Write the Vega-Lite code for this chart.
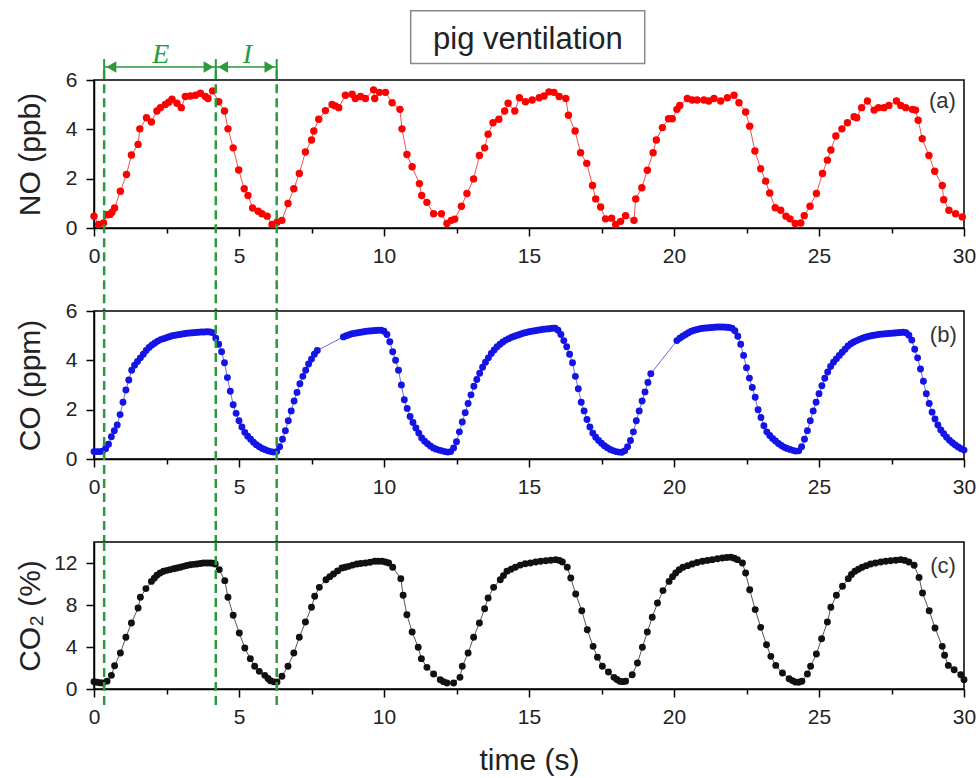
{
"$schema": "https://vega.github.io/schema/vega-lite/v6.json",
"background": "white",
"padding": {"left": 14, "top": 9, "right": 4, "bottom": 2},
"spacing": 83,
"bounds": "flush",
"config": {
 "font": "Liberation Sans",
 "view": {"stroke": "black", "strokeWidth": 1.5},
 "axis": {"grid": false, "domainColor": "black", "domainWidth": 1.5, "tickColor": "black", "tickWidth": 1.5, "labelFont": "Liberation Sans", "labelFontSize": 21, "labelColor": "#222", "labelPadding": 9, "labelFlush": false, "labelOverlap": false, "titleFont": "Liberation Sans", "titleFontSize": 30, "titleFontWeight": "normal", "titleColor": "#222"}
},
"datasets": {
 "vlines": [{"t": 0.35}, {"t": 4.2}, {"t": 6.3}],
 "no": [
{"t":0.0,"v":0.48},{"t":0.16,"v":0.14},{"t":0.33,"v":0.2},{"t":0.45,"v":0.54},{"t":0.55,"v":0.55},{"t":0.62,"v":0.64},{"t":0.71,"v":0.81},{"t":0.91,"v":1.49},{"t":1.12,"v":2.17},{"t":1.29,"v":2.96},{"t":1.52,"v":3.39},{"t":1.58,"v":4.02},{"t":1.81,"v":4.47},{"t":1.98,"v":4.3},{"t":2.17,"v":4.74},{"t":2.29,"v":4.88},{"t":2.46,"v":5.01},{"t":2.58,"v":5.1},{"t":2.69,"v":5.22},{"t":2.86,"v":5.06},{"t":3.01,"v":4.88},{"t":3.15,"v":5.33},{"t":3.32,"v":5.35},{"t":3.5,"v":5.38},{"t":3.67,"v":5.46},{"t":3.84,"v":5.33},{"t":3.93,"v":5.25},{"t":4.09,"v":5.56},{"t":4.3,"v":5.12},{"t":4.5,"v":4.74},{"t":4.62,"v":4.02},{"t":4.8,"v":3.25},{"t":4.99,"v":2.35},{"t":5.18,"v":1.59},{"t":5.31,"v":1.32},{"t":5.47,"v":0.81},{"t":5.66,"v":0.68},{"t":5.79,"v":0.58},{"t":5.97,"v":0.48},{"t":6.14,"v":0.14},{"t":6.31,"v":0.23},{"t":6.48,"v":0.31},{"t":6.69,"v":0.99},{"t":6.89,"v":1.59},{"t":7.08,"v":2.21},{"t":7.29,"v":3.08},{"t":7.5,"v":3.57},{"t":7.58,"v":3.93},{"t":7.75,"v":4.41},{"t":7.98,"v":4.76},{"t":8.21,"v":5.01},{"t":8.32,"v":4.95},{"t":8.44,"v":4.88},{"t":8.67,"v":5.38},{"t":8.9,"v":5.42},{"t":9.01,"v":5.25},{"t":9.19,"v":5.33},{"t":9.36,"v":5.25},{"t":9.64,"v":5.6},{"t":9.68,"v":5.25},{"t":9.84,"v":5.5},{"t":10.05,"v":5.5},{"t":10.28,"v":5.08},{"t":10.55,"v":4.81},{"t":10.62,"v":4.02},{"t":10.79,"v":2.98},{"t":10.97,"v":2.48},{"t":11.22,"v":1.8},{"t":11.3,"v":1.32},{"t":11.48,"v":1.04},{"t":11.71,"v":0.58},{"t":11.98,"v":0.58},{"t":12.17,"v":0.18},{"t":12.32,"v":0.31},{"t":12.44,"v":0.36},{"t":12.67,"v":0.88},{"t":12.86,"v":1.4},{"t":13.09,"v":1.99},{"t":13.29,"v":2.94},{"t":13.47,"v":3.25},{"t":13.59,"v":3.8},{"t":13.76,"v":4.27},{"t":13.96,"v":4.41},{"t":14.16,"v":4.74},{"t":14.28,"v":5.06},{"t":14.51,"v":4.74},{"t":14.67,"v":5.28},{"t":14.88,"v":5.12},{"t":15.11,"v":5.19},{"t":15.35,"v":5.28},{"t":15.52,"v":5.35},{"t":15.69,"v":5.52},{"t":15.86,"v":5.5},{"t":16.04,"v":5.33},{"t":16.27,"v":5.25},{"t":16.36,"v":4.57},{"t":16.59,"v":3.93},{"t":16.78,"v":3.05},{"t":16.99,"v":2.62},{"t":17.19,"v":1.72},{"t":17.3,"v":1.18},{"t":17.47,"v":0.85},{"t":17.64,"v":0.37},{"t":17.85,"v":0.4},{"t":17.99,"v":0.14},{"t":18.16,"v":0.27},{"t":18.33,"v":0.5},{"t":18.62,"v":0.31},{"t":18.68,"v":1.18},{"t":18.89,"v":1.63},{"t":19.08,"v":2.34},{"t":19.28,"v":3.05},{"t":19.39,"v":3.57},{"t":19.6,"v":4.07},{"t":19.81,"v":4.43},{"t":19.94,"v":4.43},{"t":20.1,"v":4.81},{"t":20.2,"v":4.97},{"t":20.46,"v":5.25},{"t":20.63,"v":5.19},{"t":20.8,"v":5.19},{"t":21.03,"v":5.19},{"t":21.2,"v":5.15},{"t":21.38,"v":5.25},{"t":21.61,"v":5.15},{"t":21.84,"v":5.28},{"t":22.07,"v":5.38},{"t":22.24,"v":5.08},{"t":22.47,"v":4.7},{"t":22.61,"v":4.13},{"t":22.79,"v":3.12},{"t":22.99,"v":2.4},{"t":23.16,"v":1.9},{"t":23.3,"v":1.42},{"t":23.49,"v":0.82},{"t":23.68,"v":0.72},{"t":23.86,"v":0.48},{"t":24.0,"v":0.37},{"t":24.18,"v":0.18},{"t":24.37,"v":0.2},{"t":24.49,"v":0.5},{"t":24.69,"v":0.88},{"t":24.91,"v":1.4},{"t":25.12,"v":2.21},{"t":25.29,"v":2.75},{"t":25.41,"v":3.16},{"t":25.58,"v":3.73},{"t":25.79,"v":4.02},{"t":25.98,"v":4.27},{"t":26.21,"v":4.51},{"t":26.3,"v":4.47},{"t":26.47,"v":4.88},{"t":26.67,"v":5.15},{"t":26.9,"v":4.78},{"t":27.05,"v":4.88},{"t":27.24,"v":4.88},{"t":27.41,"v":4.97},{"t":27.67,"v":5.15},{"t":27.82,"v":4.97},{"t":27.99,"v":4.88},{"t":28.22,"v":4.81},{"t":28.33,"v":4.78},{"t":28.42,"v":4.37},{"t":28.56,"v":3.62},{"t":28.79,"v":2.94},{"t":28.99,"v":2.3},{"t":29.25,"v":1.72},{"t":29.3,"v":1.15},{"t":29.48,"v":0.72},{"t":29.71,"v":0.58},{"t":29.94,"v":0.45}
 ],
 "co": [
{"t":0.0,"v":0.3},{"t":0.1,"v":0.3},{"t":0.2,"v":0.3},{"t":0.3,"v":0.32},{"t":0.4,"v":0.42},{"t":0.5,"v":0.6},{"t":0.6,"v":0.9},{"t":0.7,"v":1.15},{"t":0.8,"v":1.38},{"t":0.9,"v":1.8},{"t":1.0,"v":2.3},{"t":1.1,"v":2.8},{"t":1.2,"v":3.2},{"t":1.3,"v":3.6},{"t":1.4,"v":3.8},{"t":1.5,"v":3.95},{"t":1.6,"v":4.1},{"t":1.7,"v":4.25},{"t":1.8,"v":4.4},{"t":1.9,"v":4.52},{"t":2.0,"v":4.62},{"t":2.1,"v":4.7},{"t":2.2,"v":4.78},{"t":2.3,"v":4.84},{"t":2.4,"v":4.88},{"t":2.5,"v":4.92},{"t":2.6,"v":4.96},{"t":2.7,"v":5.0},{"t":2.8,"v":5.02},{"t":2.9,"v":5.04},{"t":3.0,"v":5.06},{"t":3.1,"v":5.08},{"t":3.2,"v":5.1},{"t":3.3,"v":5.11},{"t":3.4,"v":5.12},{"t":3.5,"v":5.13},{"t":3.6,"v":5.14},{"t":3.7,"v":5.15},{"t":3.8,"v":5.15},{"t":3.9,"v":5.16},{"t":4.0,"v":5.15},{"t":4.1,"v":5.12},{"t":4.2,"v":4.9},{"t":4.3,"v":4.65},{"t":4.4,"v":4.35},{"t":4.5,"v":3.9},{"t":4.6,"v":3.3},{"t":4.7,"v":2.75},{"t":4.8,"v":2.2},{"t":4.9,"v":1.85},{"t":5.0,"v":1.55},{"t":5.1,"v":1.3},{"t":5.2,"v":1.08},{"t":5.3,"v":0.92},{"t":5.4,"v":0.8},{"t":5.5,"v":0.68},{"t":5.6,"v":0.58},{"t":5.7,"v":0.5},{"t":5.8,"v":0.43},{"t":5.9,"v":0.38},{"t":6.0,"v":0.33},{"t":6.1,"v":0.3},{"t":6.2,"v":0.28},{"t":6.3,"v":0.3},{"t":6.4,"v":0.5},{"t":6.5,"v":0.8},{"t":6.6,"v":1.15},{"t":6.7,"v":1.55},{"t":6.8,"v":1.95},{"t":6.9,"v":2.35},{"t":7.0,"v":2.7},{"t":7.1,"v":3.05},{"t":7.2,"v":3.35},{"t":7.3,"v":3.6},{"t":7.4,"v":3.85},{"t":7.5,"v":4.05},{"t":7.6,"v":4.25},{"t":7.7,"v":4.4},{"t":8.6,"v":4.95},{"t":8.7,"v":5.0},{"t":8.8,"v":5.04},{"t":8.9,"v":5.08},{"t":9.0,"v":5.1},{"t":9.1,"v":5.12},{"t":9.2,"v":5.14},{"t":9.3,"v":5.16},{"t":9.4,"v":5.18},{"t":9.5,"v":5.19},{"t":9.6,"v":5.2},{"t":9.7,"v":5.21},{"t":9.8,"v":5.22},{"t":9.9,"v":5.22},{"t":10.0,"v":5.18},{"t":10.1,"v":5.05},{"t":10.2,"v":4.75},{"t":10.3,"v":4.35},{"t":10.4,"v":4.0},{"t":10.5,"v":3.6},{"t":10.6,"v":3.0},{"t":10.7,"v":2.4},{"t":10.8,"v":2.05},{"t":10.9,"v":1.72},{"t":11.0,"v":1.48},{"t":11.1,"v":1.26},{"t":11.2,"v":1.05},{"t":11.3,"v":0.85},{"t":11.4,"v":0.72},{"t":11.5,"v":0.62},{"t":11.6,"v":0.53},{"t":11.7,"v":0.45},{"t":11.8,"v":0.4},{"t":11.9,"v":0.36},{"t":12.0,"v":0.33},{"t":12.1,"v":0.3},{"t":12.2,"v":0.28},{"t":12.3,"v":0.3},{"t":12.4,"v":0.45},{"t":12.5,"v":0.7},{"t":12.6,"v":1.1},{"t":12.7,"v":1.5},{"t":12.8,"v":1.88},{"t":12.9,"v":2.25},{"t":13.0,"v":2.6},{"t":13.1,"v":2.95},{"t":13.2,"v":3.22},{"t":13.3,"v":3.48},{"t":13.4,"v":3.72},{"t":13.5,"v":3.92},{"t":13.6,"v":4.1},{"t":13.7,"v":4.28},{"t":13.8,"v":4.42},{"t":13.9,"v":4.55},{"t":14.0,"v":4.65},{"t":14.1,"v":4.74},{"t":14.2,"v":4.82},{"t":14.3,"v":4.88},{"t":14.4,"v":4.94},{"t":14.5,"v":4.98},{"t":14.6,"v":5.02},{"t":14.7,"v":5.06},{"t":14.8,"v":5.1},{"t":14.9,"v":5.13},{"t":15.0,"v":5.16},{"t":15.1,"v":5.18},{"t":15.2,"v":5.2},{"t":15.3,"v":5.22},{"t":15.4,"v":5.24},{"t":15.5,"v":5.26},{"t":15.6,"v":5.27},{"t":15.7,"v":5.28},{"t":15.8,"v":5.3},{"t":15.9,"v":5.3},{"t":16.0,"v":5.22},{"t":16.1,"v":5.05},{"t":16.2,"v":4.8},{"t":16.3,"v":4.55},{"t":16.4,"v":4.25},{"t":16.5,"v":3.9},{"t":16.6,"v":3.35},{"t":16.7,"v":2.85},{"t":16.8,"v":2.3},{"t":16.9,"v":1.95},{"t":17.0,"v":1.6},{"t":17.1,"v":1.3},{"t":17.2,"v":1.05},{"t":17.3,"v":0.88},{"t":17.4,"v":0.75},{"t":17.5,"v":0.64},{"t":17.6,"v":0.54},{"t":17.7,"v":0.46},{"t":17.8,"v":0.39},{"t":17.9,"v":0.34},{"t":18.0,"v":0.3},{"t":18.1,"v":0.28},{"t":18.2,"v":0.27},{"t":18.3,"v":0.33},{"t":18.4,"v":0.5},{"t":18.5,"v":0.75},{"t":18.6,"v":1.1},{"t":18.7,"v":1.55},{"t":18.8,"v":1.95},{"t":18.9,"v":2.35},{"t":19.0,"v":2.72},{"t":19.1,"v":3.1},{"t":19.2,"v":3.46},{"t":20.1,"v":4.8},{"t":20.2,"v":4.9},{"t":20.3,"v":4.98},{"t":20.4,"v":5.05},{"t":20.5,"v":5.12},{"t":20.6,"v":5.18},{"t":20.7,"v":5.22},{"t":20.8,"v":5.25},{"t":20.9,"v":5.28},{"t":21.0,"v":5.3},{"t":21.1,"v":5.31},{"t":21.2,"v":5.32},{"t":21.3,"v":5.33},{"t":21.4,"v":5.34},{"t":21.5,"v":5.35},{"t":21.6,"v":5.35},{"t":21.7,"v":5.35},{"t":21.8,"v":5.34},{"t":21.9,"v":5.33},{"t":22.0,"v":5.3},{"t":22.1,"v":5.2},{"t":22.2,"v":4.98},{"t":22.3,"v":4.65},{"t":22.4,"v":4.2},{"t":22.5,"v":3.7},{"t":22.6,"v":3.28},{"t":22.7,"v":2.9},{"t":22.8,"v":2.5},{"t":22.9,"v":2.0},{"t":23.0,"v":1.68},{"t":23.1,"v":1.35},{"t":23.2,"v":1.1},{"t":23.3,"v":0.95},{"t":23.4,"v":0.83},{"t":23.5,"v":0.73},{"t":23.6,"v":0.63},{"t":23.7,"v":0.55},{"t":23.8,"v":0.48},{"t":23.9,"v":0.43},{"t":24.0,"v":0.39},{"t":24.1,"v":0.35},{"t":24.2,"v":0.32},{"t":24.3,"v":0.33},{"t":24.4,"v":0.5},{"t":24.5,"v":0.8},{"t":24.6,"v":1.15},{"t":24.7,"v":1.55},{"t":24.8,"v":1.95},{"t":24.9,"v":2.3},{"t":25.0,"v":2.65},{"t":25.1,"v":2.97},{"t":25.2,"v":3.27},{"t":25.3,"v":3.53},{"t":25.4,"v":3.75},{"t":25.5,"v":3.92},{"t":25.6,"v":4.06},{"t":25.7,"v":4.2},{"t":25.8,"v":4.33},{"t":25.9,"v":4.45},{"t":26.0,"v":4.58},{"t":26.1,"v":4.67},{"t":26.2,"v":4.74},{"t":26.3,"v":4.8},{"t":26.4,"v":4.85},{"t":26.5,"v":4.9},{"t":26.6,"v":4.94},{"t":26.7,"v":4.97},{"t":26.8,"v":5.0},{"t":26.9,"v":5.02},{"t":27.0,"v":5.04},{"t":27.1,"v":5.06},{"t":27.2,"v":5.07},{"t":27.3,"v":5.08},{"t":27.4,"v":5.09},{"t":27.5,"v":5.1},{"t":27.6,"v":5.11},{"t":27.7,"v":5.12},{"t":27.8,"v":5.13},{"t":27.9,"v":5.14},{"t":28.0,"v":5.12},{"t":28.1,"v":5.02},{"t":28.2,"v":4.82},{"t":28.3,"v":4.45},{"t":28.4,"v":4.1},{"t":28.5,"v":3.65},{"t":28.6,"v":3.15},{"t":28.7,"v":2.65},{"t":28.8,"v":2.25},{"t":28.9,"v":1.9},{"t":29.0,"v":1.62},{"t":29.1,"v":1.38},{"t":29.2,"v":1.18},{"t":29.3,"v":1.02},{"t":29.4,"v":0.88},{"t":29.5,"v":0.76},{"t":29.6,"v":0.66},{"t":29.7,"v":0.57},{"t":29.8,"v":0.49},{"t":29.9,"v":0.42},{"t":30.0,"v":0.36}
 ],
 "co2": [
{"t":0.0,"v":0.7},{"t":0.1,"v":0.65},{"t":0.2,"v":0.6},{"t":0.3,"v":0.57},{"t":0.45,"v":0.75},{"t":0.6,"v":1.3},{"t":0.71,"v":2.22},{"t":0.91,"v":3.43},{"t":1.1,"v":4.92},{"t":1.29,"v":6.29},{"t":1.52,"v":7.71},{"t":1.6,"v":8.73},{"t":1.79,"v":9.56},{"t":1.98,"v":10.25},{"t":2.08,"v":10.55},{"t":2.17,"v":10.83},{"t":2.28,"v":11.05},{"t":2.4,"v":11.21},{"t":2.52,"v":11.3},{"t":2.63,"v":11.37},{"t":2.75,"v":11.45},{"t":2.86,"v":11.52},{"t":2.98,"v":11.6},{"t":3.09,"v":11.68},{"t":3.2,"v":11.76},{"t":3.32,"v":11.84},{"t":3.44,"v":11.87},{"t":3.55,"v":11.9},{"t":3.67,"v":11.95},{"t":3.78,"v":12.0},{"t":3.9,"v":12.0},{"t":4.01,"v":12.0},{"t":4.1,"v":11.98},{"t":4.18,"v":11.9},{"t":4.32,"v":11.37},{"t":4.51,"v":10.32},{"t":4.62,"v":8.73},{"t":4.8,"v":7.02},{"t":5.01,"v":5.33},{"t":5.2,"v":3.9},{"t":5.39,"v":2.89},{"t":5.54,"v":2.16},{"t":5.7,"v":1.68},{"t":5.89,"v":1.3},{"t":6.0,"v":1.0},{"t":6.08,"v":0.79},{"t":6.2,"v":0.68},{"t":6.31,"v":0.67},{"t":6.48,"v":1.21},{"t":6.69,"v":2.16},{"t":6.89,"v":3.43},{"t":7.08,"v":4.92},{"t":7.29,"v":6.38},{"t":7.5,"v":7.78},{"t":7.61,"v":8.83},{"t":7.77,"v":9.68},{"t":8.0,"v":10.41},{"t":8.13,"v":10.7},{"t":8.26,"v":10.95},{"t":8.4,"v":11.25},{"t":8.55,"v":11.52},{"t":8.66,"v":11.6},{"t":8.78,"v":11.68},{"t":8.92,"v":11.8},{"t":9.07,"v":11.9},{"t":9.2,"v":11.95},{"t":9.36,"v":12.0},{"t":9.52,"v":12.08},{"t":9.68,"v":12.16},{"t":9.8,"v":12.16},{"t":9.93,"v":12.16},{"t":10.05,"v":12.1},{"t":10.16,"v":12.0},{"t":10.3,"v":11.59},{"t":10.58,"v":10.51},{"t":10.66,"v":8.92},{"t":10.79,"v":7.08},{"t":10.97,"v":5.43},{"t":11.18,"v":3.97},{"t":11.29,"v":2.89},{"t":11.48,"v":2.06},{"t":11.71,"v":1.43},{"t":11.94,"v":0.89},{"t":12.05,"v":0.7},{"t":12.17,"v":0.57},{"t":12.4,"v":0.57},{"t":12.62,"v":1.11},{"t":12.7,"v":2.16},{"t":12.9,"v":3.43},{"t":13.09,"v":4.92},{"t":13.29,"v":6.29},{"t":13.47,"v":7.65},{"t":13.59,"v":8.67},{"t":13.78,"v":9.68},{"t":14.01,"v":10.41},{"t":14.12,"v":10.8},{"t":14.24,"v":11.21},{"t":14.38,"v":11.4},{"t":14.53,"v":11.59},{"t":14.7,"v":11.8},{"t":14.87,"v":11.92},{"t":15.05,"v":12.0},{"t":15.23,"v":12.1},{"t":15.4,"v":12.16},{"t":15.58,"v":12.22},{"t":15.75,"v":12.27},{"t":15.92,"v":12.32},{"t":16.05,"v":12.25},{"t":16.15,"v":12.1},{"t":16.32,"v":11.59},{"t":16.44,"v":10.57},{"t":16.61,"v":9.05},{"t":16.82,"v":7.46},{"t":17.01,"v":5.65},{"t":17.21,"v":4.06},{"t":17.36,"v":3.02},{"t":17.53,"v":2.16},{"t":17.74,"v":1.62},{"t":17.93,"v":1.11},{"t":18.03,"v":0.9},{"t":18.13,"v":0.73},{"t":18.23,"v":0.7},{"t":18.33,"v":0.73},{"t":18.56,"v":1.36},{"t":18.74,"v":2.48},{"t":18.91,"v":3.97},{"t":19.08,"v":5.43},{"t":19.25,"v":6.83},{"t":19.43,"v":8.19},{"t":19.62,"v":9.37},{"t":19.83,"v":10.25},{"t":19.95,"v":10.7},{"t":20.06,"v":11.05},{"t":20.18,"v":11.35},{"t":20.31,"v":11.59},{"t":20.47,"v":11.75},{"t":20.63,"v":11.9},{"t":20.8,"v":12.05},{"t":20.98,"v":12.16},{"t":21.15,"v":12.25},{"t":21.32,"v":12.32},{"t":21.5,"v":12.4},{"t":21.67,"v":12.48},{"t":21.82,"v":12.52},{"t":21.96,"v":12.54},{"t":22.08,"v":12.45},{"t":22.19,"v":12.32},{"t":22.36,"v":12.0},{"t":22.47,"v":11.05},{"t":22.61,"v":9.46},{"t":22.8,"v":7.56},{"t":22.99,"v":5.87},{"t":23.19,"v":4.22},{"t":23.34,"v":3.11},{"t":23.51,"v":2.25},{"t":23.74,"v":1.52},{"t":23.97,"v":0.98},{"t":24.08,"v":0.8},{"t":24.18,"v":0.67},{"t":24.3,"v":0.65},{"t":24.41,"v":0.73},{"t":24.6,"v":1.43},{"t":24.71,"v":2.16},{"t":24.91,"v":3.33},{"t":25.09,"v":4.79},{"t":25.29,"v":6.38},{"t":25.41,"v":7.78},{"t":25.6,"v":8.92},{"t":25.81,"v":9.78},{"t":26.01,"v":10.51},{"t":26.12,"v":10.9},{"t":26.24,"v":11.21},{"t":26.36,"v":11.4},{"t":26.49,"v":11.59},{"t":26.63,"v":11.75},{"t":26.78,"v":11.9},{"t":26.95,"v":12.0},{"t":27.13,"v":12.1},{"t":27.3,"v":12.16},{"t":27.47,"v":12.22},{"t":27.65,"v":12.27},{"t":27.82,"v":12.32},{"t":27.96,"v":12.25},{"t":28.1,"v":12.1},{"t":28.28,"v":11.78},{"t":28.45,"v":10.63},{"t":28.57,"v":9.14},{"t":28.8,"v":7.46},{"t":29.0,"v":5.81},{"t":29.25,"v":4.06},{"t":29.33,"v":3.21},{"t":29.46,"v":2.25},{"t":29.66,"v":1.84},{"t":29.89,"v":1.36},{"t":30.0,"v":0.89}
 ]
},
"vconcat": [
 {"width": 870, "height": 148,
  "layer": [
   {"data": {"name": "no"},
    "mark": {"type": "line", "color": "#f05050", "strokeWidth": 1, "point": {"filled": true, "size": 55, "color": "#ff0000", "opacity": 1}},
    "encoding": {
     "x": {"field": "t", "type": "quantitative", "scale": {"domain": [0, 30], "nice": false},
       "axis": {"title": null, "values": [0,2.5,5,7.5,10,12.5,15,17.5,20,22.5,25,27.5,30], "labelExpr": "datum.value % 5 === 0 ? datum.label : ''", "tickSize": {"condition": {"test": "datum.value % 5 === 0", "value": 8}, "value": 5}}},
     "y": {"field": "v", "type": "quantitative", "scale": {"domain": [0, 6], "nice": false},
       "axis": {"title": "NO (ppb)", "titleX": -55, "titleBaseline": "alphabetic", "values": [0,1,2,3,4,5,6], "labelExpr": "datum.value % 2 === 0 ? datum.label : ''", "tickSize": {"condition": {"test": "datum.value % 2 === 0", "value": 8}, "value": 5}}}
    }},
   {"data": {"name": "vlines"},
    "mark": {"type": "rule", "color": "#2a9a3a", "strokeWidth": 2.5, "strokeDash": [9, 5]},
    "encoding": {"x": {"field": "t", "type": "quantitative"}, "y": {"datum": 6.4}, "y2": {"datum": -3.36}}},
   {"data": {"name": "vlines"},
    "mark": {"type": "rule", "color": "#2a9a3a", "strokeWidth": 2},
    "encoding": {"x": {"field": "t", "type": "quantitative"}, "y": {"datum": 6.35}, "y2": {"datum": 6.85}}},
   {"data": {"values": [{"a": 0.35, "b": 4.2}, {"a": 4.2, "b": 6.3}]},
    "mark": {"type": "rule", "color": "#2a9a3a", "strokeWidth": 1.5},
    "encoding": {"x": {"field": "a", "type": "quantitative"}, "x2": {"field": "b"}, "y": {"datum": 6.53}}},
   {"data": {"values": [{"t": 0.6}, {"t": 4.45}]},
    "mark": {"type": "point", "shape": "triangle-left", "filled": true, "size": 130, "color": "#2a9a3a", "opacity": 1},
    "encoding": {"x": {"field": "t", "type": "quantitative"}, "y": {"datum": 6.53}}},
   {"data": {"values": [{"t": 3.95}, {"t": 6.05}]},
    "mark": {"type": "point", "shape": "triangle-right", "filled": true, "size": 130, "color": "#2a9a3a", "opacity": 1},
    "encoding": {"x": {"field": "t", "type": "quantitative"}, "y": {"datum": 6.53}}},
   {"data": {"values": [{"t": 2.3, "l": "E"}, {"t": 5.29, "l": "I"}]},
    "mark": {"type": "text", "font": "Liberation Serif", "fontStyle": "italic", "fontSize": 28, "color": "#2a9a3a", "baseline": "alphabetic"},
    "encoding": {"x": {"field": "t", "type": "quantitative"}, "y": {"datum": 6.68}, "text": {"field": "l"}}},
   {"data": {"values": [{}]},
    "mark": {"type": "rect", "fill": "white", "stroke": "#888888", "strokeWidth": 1.5},
    "encoding": {"x": {"datum": 10.92}, "x2": {"datum": 18.99}, "y": {"datum": 6.67}, "y2": {"datum": 8.81}}},
   {"data": {"values": [{}]},
    "mark": {"type": "text", "fontSize": 31, "color": "#222", "baseline": "alphabetic"},
    "encoding": {"x": {"datum": 14.96}, "y": {"datum": 7.25}, "text": {"value": "pig ventilation"}}},
   {"data": {"values": [{}]},
    "mark": {"type": "text", "fontSize": 22, "color": "#333", "align": "right", "baseline": "middle"},
    "encoding": {"x": {"datum": 29.72}, "y": {"datum": 5.15}, "text": {"value": "(a)"}}}
  ]},
 {"width": 870, "height": 148,
  "layer": [
   {"data": {"name": "co"},
    "mark": {"type": "line", "color": "#6a6ae0", "strokeWidth": 1, "point": {"filled": true, "size": 48, "color": "#1414e6", "opacity": 1}},
    "encoding": {
     "x": {"field": "t", "type": "quantitative", "scale": {"domain": [0, 30], "nice": false},
       "axis": {"title": null, "values": [0,2.5,5,7.5,10,12.5,15,17.5,20,22.5,25,27.5,30], "labelExpr": "datum.value % 5 === 0 ? datum.label : ''", "tickSize": {"condition": {"test": "datum.value % 5 === 0", "value": 8}, "value": 5}}},
     "y": {"field": "v", "type": "quantitative", "scale": {"domain": [0, 6], "nice": false},
       "axis": {"title": "CO (ppm)", "titleX": -55, "titleBaseline": "alphabetic", "values": [0,1,2,3,4,5,6], "labelExpr": "datum.value % 2 === 0 ? datum.label : ''", "tickSize": {"condition": {"test": "datum.value % 2 === 0", "value": 8}, "value": 5}}}
    }},
   {"data": {"name": "vlines"},
    "mark": {"type": "rule", "color": "#2a9a3a", "strokeWidth": 2.5, "strokeDash": [9, 5]},
    "encoding": {"x": {"field": "t", "type": "quantitative"}, "y": {"datum": 6}, "y2": {"datum": -3.36}}},
   {"data": {"values": [{}]},
    "mark": {"type": "text", "fontSize": 22, "color": "#333", "align": "right", "baseline": "middle"},
    "encoding": {"x": {"datum": 29.75}, "y": {"datum": 5.03}, "text": {"value": "(b)"}}}
  ]},
 {"width": 870, "height": 147,
  "layer": [
   {"data": {"name": "co2"},
    "mark": {"type": "line", "color": "#555555", "strokeWidth": 1, "point": {"filled": true, "size": 48, "color": "#111111", "opacity": 1}},
    "encoding": {
     "x": {"field": "t", "type": "quantitative", "scale": {"domain": [0, 30], "nice": false},
       "axis": {"title": "time (s)", "titleBaseline": "alphabetic", "titleY": 80, "values": [0,2.5,5,7.5,10,12.5,15,17.5,20,22.5,25,27.5,30], "labelExpr": "datum.value % 5 === 0 ? datum.label : ''", "tickSize": {"condition": {"test": "datum.value % 5 === 0", "value": 8}, "value": 5}}},
     "y": {"field": "v", "type": "quantitative", "scale": {"domain": [0, 14], "nice": false},
       "axis": {"title": "CO₂ (%)", "titleX": -55, "titleBaseline": "alphabetic", "values": [0,2,4,6,8,10,12], "labelExpr": "datum.value % 4 === 0 ? datum.label : ''", "tickSize": {"condition": {"test": "datum.value % 4 === 0", "value": 8}, "value": 5}}}
    }},
   {"data": {"name": "vlines"},
    "mark": {"type": "rule", "color": "#2a9a3a", "strokeWidth": 2.5, "strokeDash": [9, 5]},
    "encoding": {"x": {"field": "t", "type": "quantitative"}, "y": {"datum": 14}, "y2": {"datum": -1.62}}},
   {"data": {"values": [{}]},
    "mark": {"type": "text", "fontSize": 22, "color": "#333", "align": "right", "baseline": "middle"},
    "encoding": {"x": {"datum": 29.72}, "y": {"datum": 11.76}, "text": {"value": "(c)"}}}
  ]}
]
}
